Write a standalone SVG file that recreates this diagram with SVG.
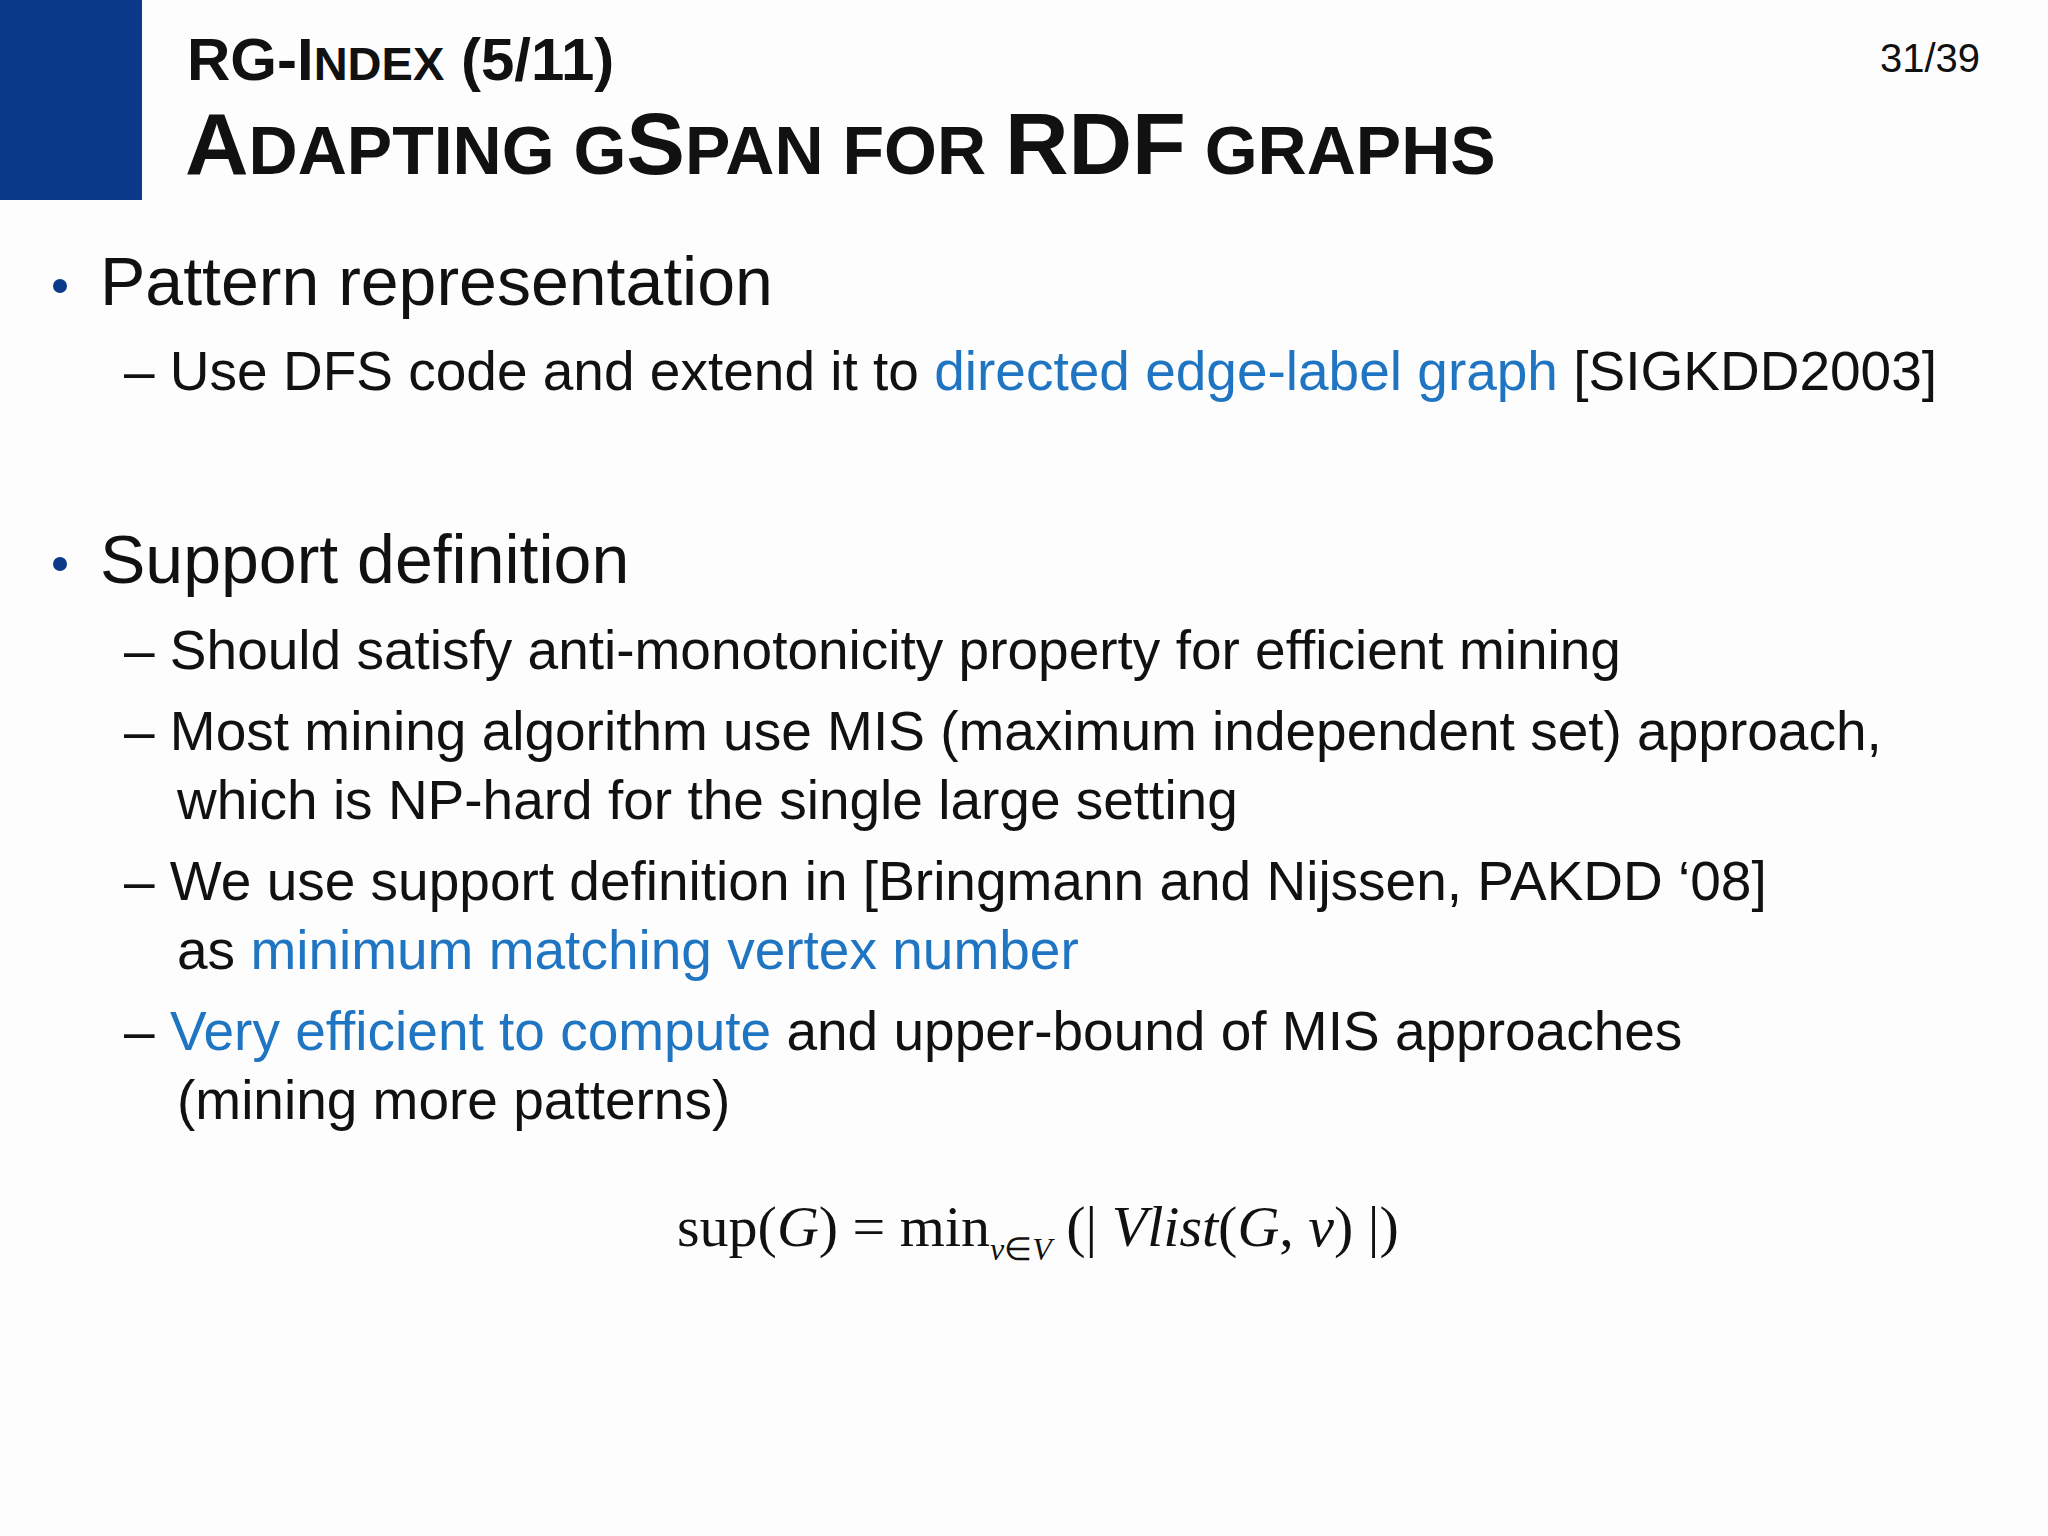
<svg xmlns="http://www.w3.org/2000/svg" width="2048" height="1536" viewBox="0 0 2048 1536">
<style>
text{font-family:"Liberation Sans",Arial,sans-serif;fill:#111}
.t{font-weight:bold}
.b{fill:#1f75c2}
.l1{font-size:68px}
.l2{font-size:55px}
.dot{fill:#0b3a8a}
.m{font-family:"Liberation Serif","Times New Roman",serif;font-size:58px}
</style>
<rect width="2048" height="1536" fill="#fdfdfd"/>
<rect x="0" y="0" width="142" height="200" fill="#0b3a8a"/>
<g id="title">
<text class="t" x="187" y="80" font-size="60">RG-I<tspan font-size="47">NDEX</tspan> (5/11)</text>
<text class="t" x="185" y="174" font-size="88">A<tspan font-size="68">DAPTING G</tspan>S<tspan font-size="68">PAN FOR </tspan>RDF<tspan font-size="68"> GRAPHS</tspan></text>
<text x="1980" y="72" font-size="40" text-anchor="end">31/39</text>
</g>
<g id="body">
<circle class="dot" cx="60" cy="286" r="7"/>
<text class="l1" x="100" y="305">Pattern representation</text>
<text class="l2" x="124" y="390">– Use DFS code and extend it to <tspan class="b">directed edge-label graph</tspan> [SIGKDD2003]</text>
<circle class="dot" cx="60" cy="564" r="7"/>
<text class="l1" x="100" y="583">Support definition</text>
<text class="l2" x="124" y="669">– Should satisfy anti-monotonicity property for efficient mining</text>
<text class="l2" x="124" y="750">– Most mining algorithm use MIS (maximum independent set) approach,</text>
<text class="l2" x="177" y="819">which is NP-hard for the single large setting</text>
<text class="l2" x="124" y="900">– We use support definition in [Bringmann and Nijssen, PAKDD ‘08]</text>
<text class="l2" x="177" y="969">as <tspan class="b">minimum matching vertex number</tspan></text>
<text class="l2" x="124" y="1050">– <tspan class="b">Very efficient to compute</tspan> and upper-bound of MIS approaches</text>
<text class="l2" x="177" y="1119">(mining more patterns)</text>
</g>
<g id="formula">
<text class="m" x="677" y="1246">sup(<tspan font-style="italic">G</tspan>) = min<tspan font-size="32" font-style="italic" dy="14">v</tspan><tspan font-size="32">∈</tspan><tspan font-size="32" font-style="italic">V</tspan><tspan dy="-14"> (| </tspan><tspan font-style="italic">Vlist</tspan>(<tspan font-style="italic">G</tspan>, <tspan font-style="italic">v</tspan>) |)</text>
</g>
</svg>
